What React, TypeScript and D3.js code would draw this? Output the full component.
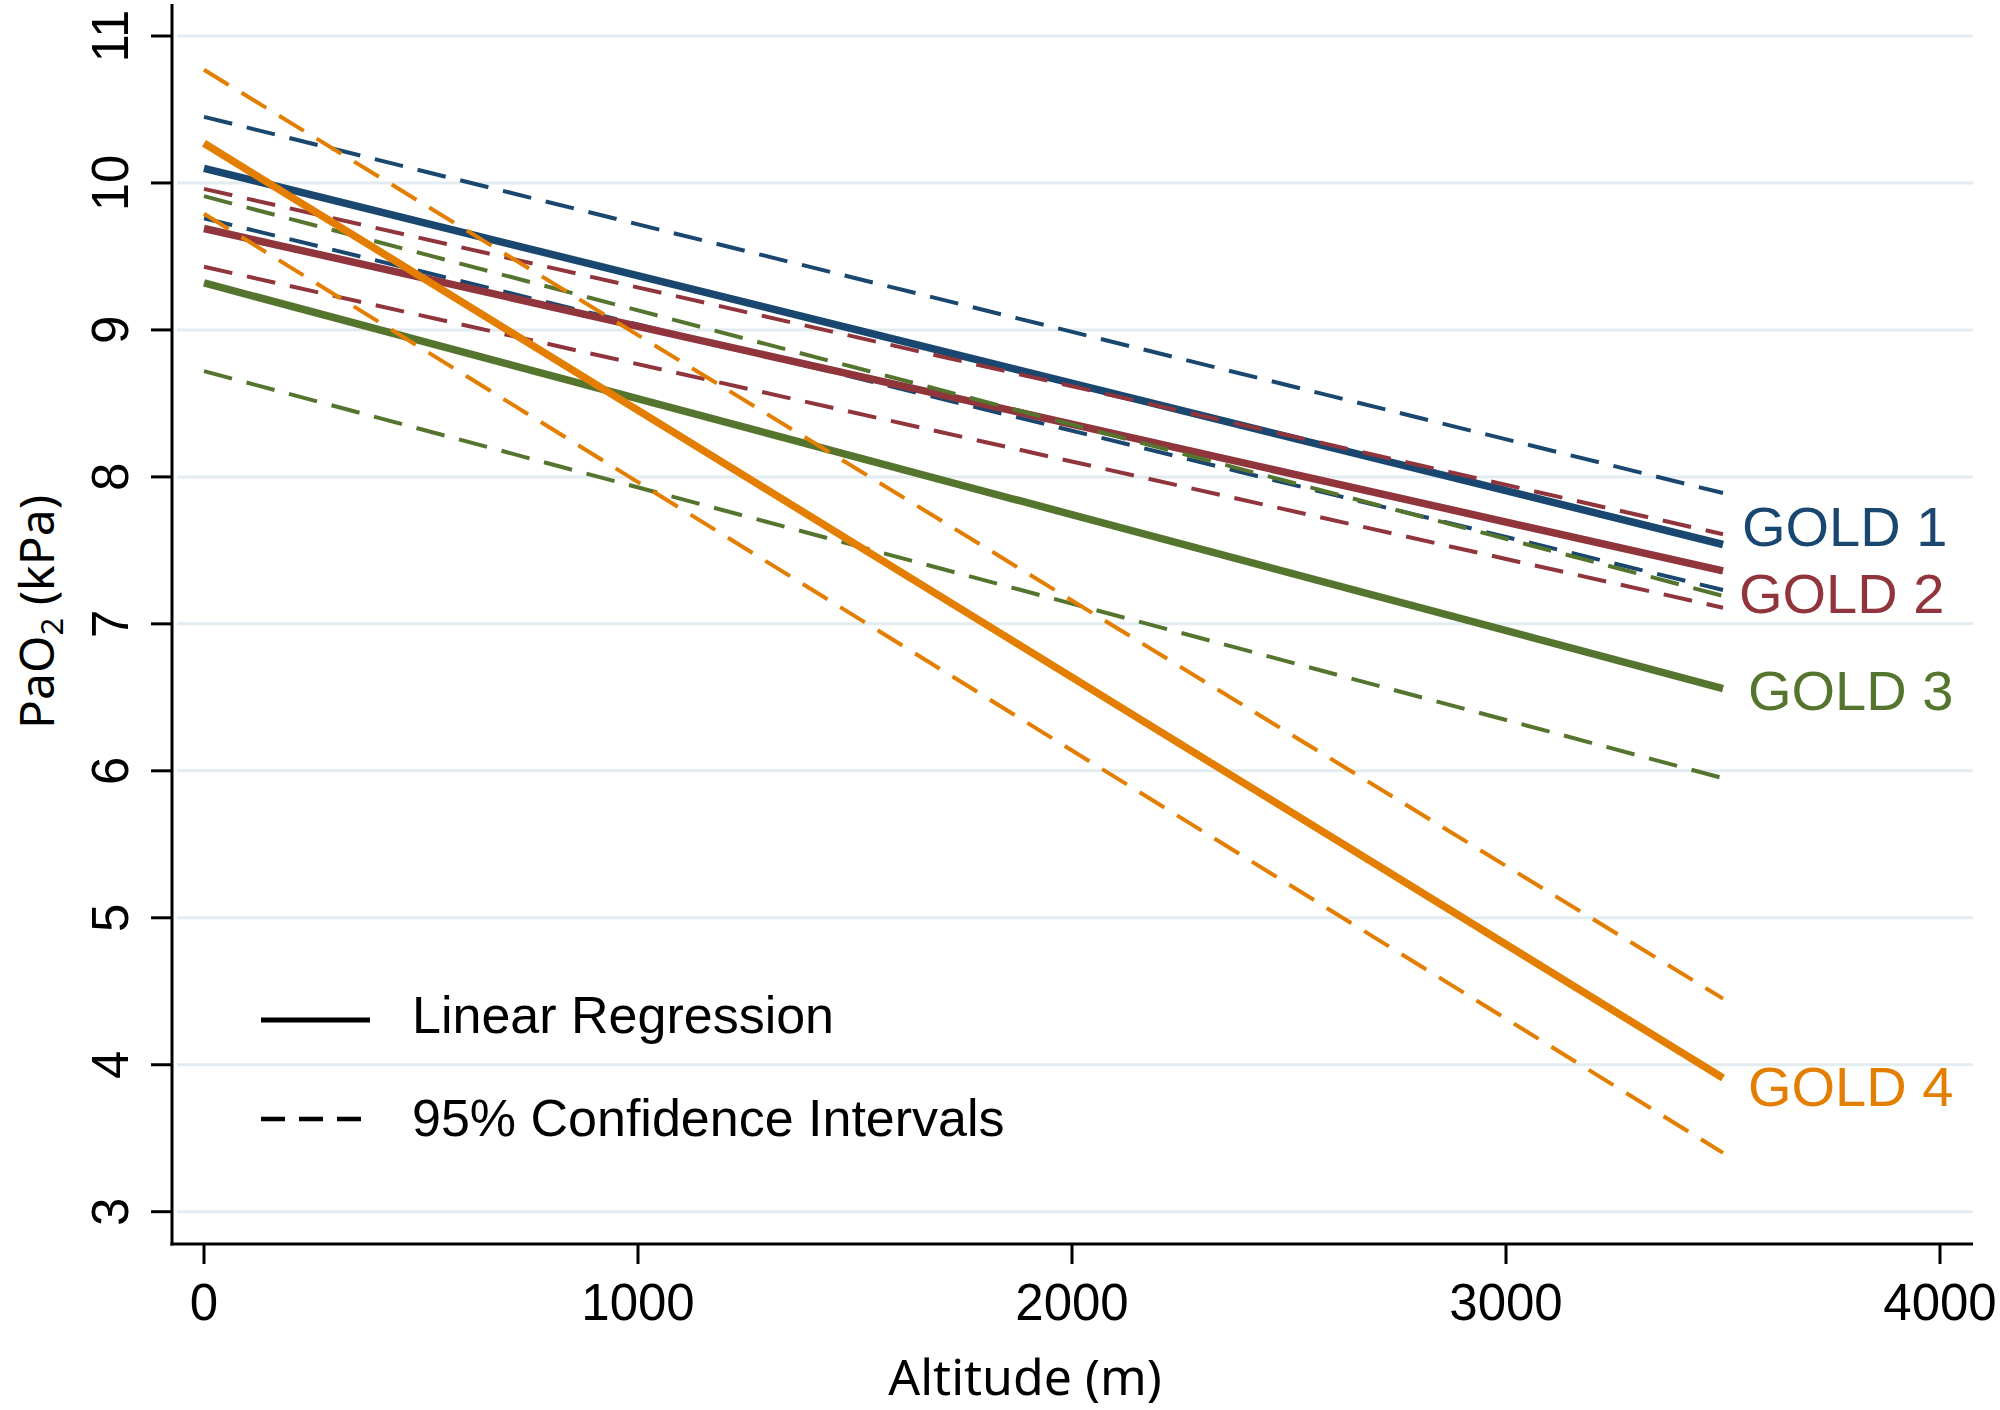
import React from "react";
import * as d3 from "d3";

// ---- Data ----
const altitudes = [0, 3500];
const seriesNames = ["GOLD 1", "GOLD 2", "GOLD 3", "GOLD 4"];
const seriesColors = ["#1a476f", "#90353b", "#55752f", "#e37e00"];
const fitValues = [
  [10.1, 7.54],
  [9.69, 7.36],
  [9.32, 6.56],
  [10.27, 3.91],
];
const ciLower = [
  [9.76, 7.23],
  [9.43, 7.11],
  [8.72, 5.95],
  [9.79, 3.4],
];
const ciUpper = [
  [10.45, 7.89],
  [9.96, 7.61],
  [9.91, 7.19],
  [10.77, 4.45],
];
const xTicks = [0, 1000, 2000, 3000, 4000];
const yTicks = [3, 4, 5, 6, 7, 8, 9, 10, 11];
const legendLabels = ["Linear Regression", "95% Confidence Intervals"];

// ---- Layout ----
const W = 2000;
const H = 1410;
const xAxisY = 1244;
const yAxisX = 172;
const plotRight = 1973;
const labelPos = [
  { x: 1742, y: 546 },
  { x: 1739, y: 613 },
  { x: 1748, y: 710 },
  { x: 1748, y: 1106 },
];
const tickFont = "'Liberation Sans', Arial, Helvetica, sans-serif";
const titleFont = "'Noto Sans', 'Open Sans', sans-serif";

export default function App() {
  const x = d3.scaleLinear().domain([0, 4000]).range([204, 1940]);
  const y = d3.scaleLinear().domain([3, 11]).range([1211.7, 36]);
  const line = d3
    .line<[number, number]>()
    .x((d) => x(d[0]))
    .y((d) => y(d[1]));
  const pts = (vals: number[]) =>
    altitudes.map((a, i) => [a, vals[i]] as [number, number]);

  return (
    <svg
      width={W}
      height={H}
      viewBox={`0 0 ${W} ${H}`}
      style={{ position: "absolute", left: 0, top: 0, background: "#fff" }}
    >
      <rect x={0} y={0} width={W} height={H} fill="#fff" />
      {/* gridlines */}
      {yTicks.map((t) => (
        <line
          key={"g" + t}
          x1={177}
          x2={plotRight}
          y1={y(t)}
          y2={y(t)}
          stroke="#e3ecf1"
          strokeWidth={3}
        />
      ))}
      {/* series */}
      {seriesNames.map((name, i) => (
        <g key={name}>
          <path
            d={line(pts(ciUpper[i])) || ""}
            fill="none"
            stroke={seriesColors[i]}
            strokeWidth={4}
            strokeDasharray="29 15"
          />
          <path
            d={line(pts(ciLower[i])) || ""}
            fill="none"
            stroke={seriesColors[i]}
            strokeWidth={4}
            strokeDasharray="29 15"
          />
          <path
            d={line(pts(fitValues[i])) || ""}
            fill="none"
            stroke={seriesColors[i]}
            strokeWidth={7.5}
          />
        </g>
      ))}
      {/* axes */}
      <line x1={yAxisX} x2={yAxisX} y1={4} y2={xAxisY + 1.5} stroke="#000" strokeWidth={3} />
      <line x1={yAxisX - 1.5} x2={plotRight} y1={xAxisY} y2={xAxisY} stroke="#000" strokeWidth={3} />
      {yTicks.map((t) => (
        <g key={"yt" + t}>
          <line x1={151} x2={yAxisX} y1={y(t)} y2={y(t)} stroke="#000" strokeWidth={3} />
          <text
            transform={`translate(128,${y(t)}) rotate(-90)`}
            textAnchor="middle"
            fontFamily={tickFont}
            fontSize={51}
            fill="#000"
          >
            {t}
          </text>
        </g>
      ))}
      {xTicks.map((t) => (
        <g key={"xt" + t}>
          <line x1={x(t)} x2={x(t)} y1={xAxisY} y2={xAxisY + 20} stroke="#000" strokeWidth={3} />
          <text
            x={x(t)}
            y={1320}
            textAnchor="middle"
            fontFamily={tickFont}
            fontSize={51}
            fill="#000"
          >
            {t}
          </text>
        </g>
      ))}
      {/* axis titles */}
      <text
        x={1025}
        y={1395}
        textAnchor="middle"
        fontFamily={titleFont}
        fontSize={50}
        fill="#000"
      >
        Altitude (m)
      </text>
      <text
        transform={`translate(54,612) rotate(-90)`}
        textAnchor="middle"
        fontFamily={titleFont}
        fontSize={48}
        fill="#000"
      >
        PaO
        <tspan fontSize={31} dy={9}>2</tspan>
        <tspan dy={-9}> (kPa)</tspan>
      </text>
      {/* series labels */}
      {seriesNames.map((name, i) => (
        <text
          key={"lab" + name}
          x={labelPos[i].x}
          y={labelPos[i].y}
          fontFamily={tickFont}
          fontSize={56}
          fill={seriesColors[i]}
        >
          {name}
        </text>
      ))}
      {/* legend */}
      <line x1={261} x2={370} y1={1020} y2={1020} stroke="#000" strokeWidth={5} />
      <line x1={261} x2={370} y1={1119} y2={1119} stroke="#000" strokeWidth={4.5} strokeDasharray="24 14" />
      <text x={412} y={1033} fontFamily={tickFont} fontSize={52} fill="#000">
        {legendLabels[0]}
      </text>
      <text x={412} y={1136} fontFamily={tickFont} fontSize={52} fill="#000">
        {legendLabels[1]}
      </text>
    </svg>
  );
}
